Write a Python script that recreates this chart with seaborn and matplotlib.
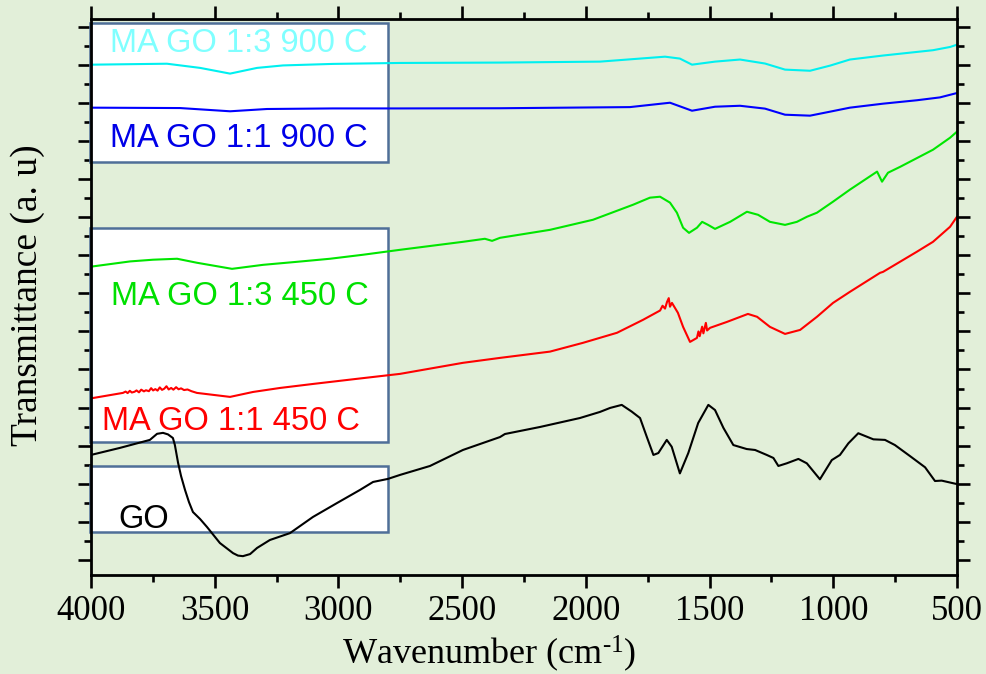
import numpy as np
import pandas as pd
import matplotlib
matplotlib.use("Agg")
import matplotlib.pyplot as plt
from matplotlib.patches import Rectangle
from matplotlib.ticker import MultipleLocator
import seaborn as sns

# ---- FTIR spectra (wavenumber in cm-1, transmittance in arbitrary units) ----
go_wn = [4000, 3883, 3762, 3733, 3709, 3689, 3669, 3661, 3648, 3636, 3620, 3604,
         3588, 3559, 3531, 3479, 3426, 3406, 3386, 3357, 3329, 3277, 3196, 3103,
         3006, 2913, 2860, 2800, 2751, 2630, 2497, 2347, 2327, 2185, 2024, 1943,
         1902, 1855, 1815, 1781, 1754, 1727, 1707, 1673, 1653, 1620, 1586, 1546,
         1505, 1478, 1444, 1404, 1350, 1316, 1269, 1242, 1222, 1188, 1141, 1107,
         1054, 1006, 973, 939, 899, 838, 791, 751, 690, 629, 589, 562, 501]
go_t = [5.51, 5.88, 6.30, 6.62, 6.67, 6.59, 6.40, 6.03, 5.09, 4.40, 3.67, 3.03,
        2.51, 2.14, 1.72, 0.88, 0.35, 0.22, 0.19, 0.30, 0.62, 1.04, 1.40, 2.25,
        2.98, 3.67, 4.09, 4.25, 4.46, 4.93, 5.77, 6.45, 6.61, 6.98, 7.45, 7.77,
        7.98, 8.14, 7.79, 7.45, 6.47, 5.51, 5.61, 6.30, 5.94, 4.54, 5.61, 7.19,
        8.14, 7.87, 6.93, 6.03, 5.82, 5.77, 5.51, 5.35, 4.93, 5.07, 5.30, 5.07,
        4.23, 5.24, 5.51, 6.12, 6.65, 6.33, 6.30, 6.03, 5.45, 4.86, 4.14, 4.16,
        3.98]

ma11_450_wn = [3997, 3871, 3860, 3852, 3843, 3835, 3824, 3816, 3806, 3797, 3786,
               3778, 3766, 3757, 3749, 3740, 3731, 3722, 3713, 3704, 3695, 3686,
               3676, 3667, 3656, 3646, 3636, 3624, 3610, 3594, 3572, 3438, 3345,
               3236, 3103, 2925, 2751, 2497, 2347, 2145, 2012, 1874, 1769, 1700,
               1690, 1680, 1672, 1665, 1660, 1652, 1628, 1607, 1579, 1551, 1545,
               1540, 1530, 1525, 1515, 1510, 1498, 1430, 1345, 1308, 1256, 1195,
               1134, 1066, 1001, 933, 811, 799, 662, 597, 528, 500]
ma11_450_t = [8.49, 8.77, 8.84, 8.76, 8.88, 8.79, 8.83, 8.90, 8.80, 8.94, 8.85,
              8.91, 8.86, 9.02, 8.90, 8.97, 8.89, 9.06, 8.93, 8.99, 9.12, 8.95,
              9.03, 8.94, 9.07, 8.96, 9.01, 8.92, 8.95, 8.86, 8.77, 8.56, 8.82,
              9.03, 9.24, 9.51, 9.77, 10.35, 10.61, 10.94, 11.40, 11.93, 12.61,
              13.10, 13.35, 13.20, 13.55, 13.75, 13.30, 13.50, 12.98, 12.24,
              11.45, 11.66, 12.00, 11.75, 12.25, 11.90, 12.45, 12.05, 12.19,
              12.50, 12.92, 12.77, 12.24, 11.87, 12.08, 12.77, 13.50, 14.08,
              15.08, 15.13, 16.19, 16.71, 17.50, 18.03]

ma13_450_wn = [3997, 3842, 3749, 3652, 3572, 3430, 3305, 3167, 3034, 2901, 2751,
               2497, 2408, 2379, 2347, 2145, 1971, 1809, 1741, 1700, 1660, 1632,
               1607, 1583, 1551, 1530, 1506, 1478, 1417, 1349, 1304, 1256, 1195,
               1147, 1106, 1066, 1001, 933, 823, 803, 779, 730, 597, 528, 500]
ma13_450_t = [15.41, 15.68, 15.77, 15.82, 15.61, 15.29, 15.50, 15.66, 15.82, 16.03,
              16.29, 16.71, 16.87, 16.76, 16.92, 17.34, 17.87, 18.66, 19.03, 19.08,
              18.77, 18.24, 17.45, 17.18, 17.45, 17.76, 17.60, 17.39, 17.76, 18.29,
              18.13, 17.76, 17.60, 17.76, 18.03, 18.24, 18.82, 19.45, 20.40, 19.87,
              20.34, 20.65, 21.55, 22.18, 22.50]

ma11_900_wn = [3996, 3640, 3438, 3289, 3022, 2751, 2347, 1822, 1660, 1571, 1478,
               1377, 1276, 1195, 1094, 1013, 933, 799, 662, 569, 500]
ma11_900_t = [23.76, 23.74, 23.57, 23.69, 23.72, 23.72, 23.73, 23.79, 24.02, 23.60,
              23.81, 23.86, 23.71, 23.39, 23.34, 23.55, 23.76, 23.97, 24.15, 24.30,
              24.53]

ma13_900_wn = [3996, 3693, 3559, 3438, 3329, 3224, 3022, 2751, 2347, 1943, 1781,
               1680, 1620, 1571, 1478, 1377, 1276, 1195, 1094, 1013, 933, 799, 597,
               528, 500]
ma13_900_t = [26.02, 26.07, 25.85, 25.55, 25.85, 25.98, 26.06, 26.11, 26.13, 26.18,
              26.34, 26.44, 26.34, 26.02, 26.18, 26.29, 26.08, 25.76, 25.70, 25.97,
              26.29, 26.50, 26.78, 26.95, 27.07]

series_names = ["GO", "MA GO 1:1 450 C", "MA GO 1:3 450 C",
                "MA GO 1:1 900 C", "MA GO 1:3 900 C"]
line_colors = ["#000000", "#ff0000", "#00e600", "#0000ff", "#00f0f0"]
label_colors = ["#000000", "#ff0000", "#00e000", "#0000e8", "#80ffff"]

frames = []
for name, wn, t in zip(series_names,
                       [go_wn, ma11_450_wn, ma13_450_wn, ma11_900_wn, ma13_900_wn],
                       [go_t, ma11_450_t, ma13_450_t, ma11_900_t, ma13_900_t]):
    frames.append(pd.DataFrame({"wavenumber": wn, "transmittance": t, "sample": name}))
spectra = pd.concat(frames, ignore_index=True)

# ---- styling ----
sns.set_theme(style="ticks")
plt.rcParams["font.family"] = ["Liberation Serif", "DejaVu Serif"]
plt.rcParams["mathtext.fontset"] = "custom"
plt.rcParams["mathtext.rm"] = "Liberation Serif"
plt.rcParams["mathtext.default"] = "rm"

bg = "#e2efd9"
fig = plt.figure(figsize=(9.86, 6.74), dpi=100, facecolor=bg)
ax = fig.add_axes([91 / 986, 1 - 575 / 674, 866 / 986, 556 / 674])
ax.set_facecolor(bg)

# white annotation panels on the left
panel_edge = "#4f6f98"
panels = [(20.92, 28.23), (6.19, 17.45), (1.46, 4.93)]
for y0, y1 in panels:
    ax.add_patch(Rectangle((2800, y0), 1205, y1 - y0, facecolor="white",
                           edgecolor=panel_edge, linewidth=1.8, zorder=1,
                           clip_on=False))

sns.lineplot(data=spectra, x="wavenumber", y="transmittance", hue="sample",
             hue_order=series_names, palette=line_colors, sort=False,
             estimator=None, linewidth=1.5, legend=False, ax=ax, zorder=3,
             solid_joinstyle="round", solid_capstyle="round")

# sample labels inside the panels
label_pos = [(3891, 1.66), (3956, 6.82), (3919, 13.40), (3923, 21.70), (3923, 26.70)]
for name, col, (x, y) in zip(series_names, label_colors, label_pos):
    ax.text(x, y, name, color=col, fontsize=23.5,
            family=["Liberation Sans", "DejaVu Sans"],
            ha="left", va="baseline", zorder=4)

ax.set_xlim(4000, 500)
ax.set_ylim(-0.8, 28.42)
ax.xaxis.set_major_locator(MultipleLocator(500))
ax.xaxis.set_minor_locator(MultipleLocator(250))
ax.yaxis.set_major_locator(MultipleLocator(2))
ax.yaxis.set_minor_locator(MultipleLocator(1))
ax.tick_params(which="both", direction="out", top=True, right=True, width=1.9,
               color="black")
ax.tick_params(which="major", length=9.5)
ax.tick_params(which="minor", length=4.8)
ax.tick_params(axis="x", labelsize=25, pad=5, labelcolor="black")
ax.tick_params(axis="y", labelleft=False)
for s in ax.spines.values():
    s.set_linewidth(2)
    s.set_color("black")
    s.set_zorder(5)

ax.set_xlabel("")
ax.set_ylabel("")
fig.text(28 / 986, 1 - 295 / 674, "Transmittance (a. u)", rotation=90, fontsize=27,
         ha="center", va="center", color="black")
fig.text(489 / 986, 1 - 664 / 674, r"Wavenumber (cm$^{\text{-1}}$)", fontsize=26,
         ha="center", va="baseline", color="black")

fig.savefig("out.png", dpi=100, facecolor=bg)
